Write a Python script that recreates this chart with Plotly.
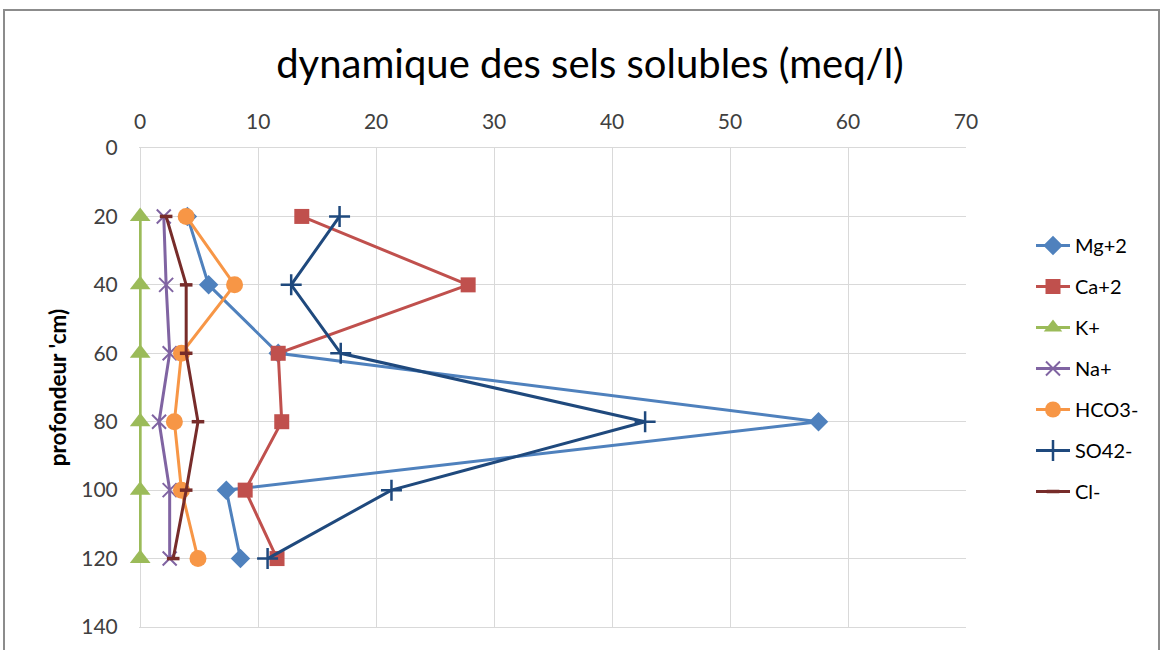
import plotly.graph_objects as go

# Profondeur des prélèvements (cm)
profondeur = [20, 40, 60, 80, 100, 120]

# Concentrations en sels solubles (meq/l)
mg = [4.0, 5.8, 11.7, 57.5, 7.3, 8.5]
ca = [13.7, 27.8, 11.7, 12.0, 8.9, 11.6]
k = [0, 0, 0, 0, 0, 0]
na = [2.0, 2.2, 2.5, 1.6, 2.5, 2.5]
hco3 = [3.9, 8.0, 3.5, 2.9, 3.5, 4.9]
so4 = [16.9, 12.8, 17.0, 42.8, 21.3, 10.8]
cl = [2.2, 3.9, 3.9, 4.9, 3.9, 2.8]

series = [
    ("Mg+2", mg, "#4F81BD", "diamond", 15, None),
    ("Ca+2", ca, "#C0504D", "square", 15, None),
    ("K+", k, "#9BBB59", "triangle-up", 18, None),
    ("Na+", na, "#8064A2", "x-thin-open", 14, 2),
    ("HCO3-", hco3, "#F79646", "circle", 17, None),
    ("SO42-", so4, "#1F497D", "cross-thin-open", 15, 2.5),
    ("Cl-", cl, "#772C2A", "line-ew-open", 9, 3.5),
]

W, H = 1163, 650
L, R, T, B = 139, 966, 148, 627
FONT = "Lato, 'Open Sans', sans-serif"

fig = go.Figure()
for i, (name, vals, color, symbol, size, lw) in enumerate(series):
    marker = dict(symbol=symbol, size=size, color=color)
    if lw is not None:
        marker["line"] = dict(color=color, width=lw)
    fig.add_trace(go.Scatter(
        x=vals, y=profondeur, name=name, mode="lines+markers",
        line=dict(color=color, width=3), marker=marker,
        legendgroup=f"g{i}", cliponaxis=False,
    ))

axis_font = dict(family=FONT, size=21, color="#404040")

fig.update_layout(
    width=W, height=H,
    margin=dict(l=L, r=W - R, t=T, b=H - B),
    paper_bgcolor="white", plot_bgcolor="white",
    title=dict(
        text="dynamique des sels solubles (meq/l)",
        x=(590 - L) / (R - L), xref="paper", xanchor="center",
        y=1 - 64 / H, yref="container", yanchor="middle",
        font=dict(family=FONT, size=40, color="#000000"),
    ),
    xaxis=dict(
        side="top", range=[-0.1, 70], dtick=10, tick0=0,
        showgrid=True, gridcolor="#D9D9D9", gridwidth=1,
        zeroline=False, showline=True, linecolor="#D9D9D9", mirror=True,
        ticks="outside", ticklen=10, tickcolor="rgba(0,0,0,0)",
        tickfont=axis_font,
    ),
    yaxis=dict(
        range=[140, 0], dtick=20, tick0=0,
        showgrid=True, gridcolor="#D9D9D9", gridwidth=1,
        zeroline=False, showline=False,
        ticks="outside", ticklen=16, tickcolor="rgba(0,0,0,0)",
        tickfont=axis_font,
        title=dict(text="<b>profondeur 'cm)</b>", standoff=8,
                   font=dict(family=FONT, size=22.5, color="#000000")),
    ),
    legend=dict(
        x=(1031 - L) / (R - L), xanchor="left",
        y=(B - 226) / (B - T), yanchor="top",
        font=dict(family=FONT, size=20, color="#000000"),
        tracegroupgap=12, itemwidth=34, bgcolor="rgba(0,0,0,0)",
    ),
    showlegend=True,
)

# Cadre gris autour du graphique
fig.add_shape(
    type="rect", xref="paper", yref="paper",
    x0=(4 - L) / (R - L), x1=(1159 - L) / (R - L),
    y0=(B - 662) / (B - T), y1=(B - 10) / (B - T),
    line=dict(color="#8C8C8C", width=2), fillcolor="rgba(0,0,0,0)",
    layer="below",
)

fig.write_html("out.html")
